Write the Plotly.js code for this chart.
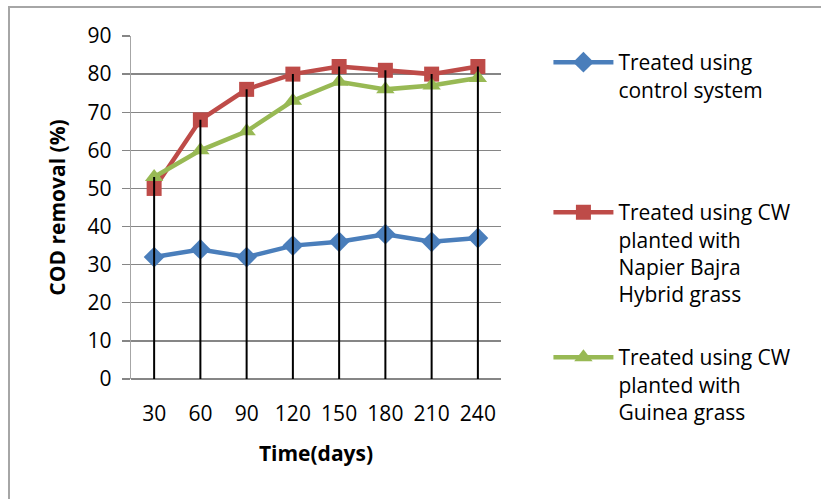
<!DOCTYPE html>
<html>
<head>
<meta charset="utf-8">
<script src="https://cdn.plot.ly/plotly-3.0.1.min.js"></script>
<style>
html,body{margin:0;padding:0;background:#fff;overflow:hidden;}
#chart{width:821px;height:499px;position:absolute;left:0;top:0;}
#frame{position:absolute;left:8px;top:6px;width:900px;height:600px;border-top:2px solid #a6a6a6;border-left:2px solid #a6a6a6;pointer-events:none;}
</style>
</head>
<body>
<div id="chart"></div>
<div id="frame"></div>
<script>
const days = ["30","60","90","120","150","180","210","240"];
const controlSystem = [32, 34, 32, 35, 36, 38, 36, 37];
const napierBajra = [50, 68, 76, 80, 82, 81, 80, 82];
const guineaGrass = [53, 60, 65, 73, 78, 76, 77, 79];
const seriesNames = [
  "Treated using<br>control system",
  "Treated using CW<br>planted with<br>Napier Bajra<br>Hybrid grass",
  "Treated using CW<br>planted with<br>Guinea grass"
];
const yTickVals = [0,10,20,30,40,50,60,70,80,90];

const font = "'Open Sans', 'DejaVu Sans', sans-serif";

// drop lines from 0 to the highest value at each category
const dropX = [], dropY = [];
days.forEach((d, i) => {
  const top = Math.max(controlSystem[i], napierBajra[i], guineaGrass[i]);
  dropX.push(d, d, null);
  dropY.push(0, top, null);
});

const traces = [
  {x: days, y: controlSystem, name: seriesNames[0], type: "scatter", mode: "lines+markers",
   line: {color: "#4A7EBB", width: 4.5}, marker: {symbol: "diamond", size: 16, color: "#4A7EBB"},
   legend: "legend"},
  {x: days, y: napierBajra, name: seriesNames[1], type: "scatter", mode: "lines+markers",
   line: {color: "#BE4B48", width: 4.5}, marker: {symbol: "square", size: 15, color: "#BE4B48"},
   legend: "legend2"},
  {x: days, y: guineaGrass, name: seriesNames[2], type: "scatter", mode: "lines+markers",
   line: {color: "#98B954", width: 4.5}, marker: {symbol: "triangle-up", size: 16, color: "#98B954"},
   legend: "legend3"},
  {x: dropX, y: dropY, type: "scatter", mode: "lines", showlegend: false, hoverinfo: "skip",
   line: {color: "#000000", width: 2}}
];

const legendBase = {
  xref: "container", yref: "container", xanchor: "left", yanchor: "top",
  bgcolor: "rgba(0,0,0,0)", borderwidth: 0, valign: "top", itemwidth: 60,
  font: {family: font, size: 21, color: "#000"}
};

const layout = {
  width: 821, height: 499,
  margin: {l: 131, r: 320, t: 36, b: 120},
  paper_bgcolor: "#ffffff", plot_bgcolor: "#ffffff",
  font: {family: font, size: 21, color: "#000"},
  xaxis: {
    type: "category", range: [-0.5, 7.5],
    showgrid: false, zeroline: false, showline: false,
    ticks: "", ticklabelstandoff: 20,
    tickfont: {family: font, size: 21, color: "#000"},
    title: {text: "<b>Time(days)</b>", font: {family: font, size: 21, color: "#000"}, standoff: 20}
  },
  yaxis: {
    range: [0, 90], tickvals: yTickVals, ticktext: yTickVals.map(String),
    showgrid: true, gridcolor: "#868686", gridwidth: 1.3,
    zeroline: true, zerolinecolor: "#868686", zerolinewidth: 1.3,
    showline: true, linecolor: "#a6a6a6", linewidth: 1.3,
    ticks: "outside", ticklen: 8, tickcolor: "#868686", tickwidth: 1.3,
    ticklabelstandoff: 6,
    tickfont: {family: font, size: 21, color: "#000"},
    title: {text: "<b>COD removal (%)</b>", font: {family: font, size: 21, color: "#000"}, standoff: 16}
  },
  legend: Object.assign({}, legendBase, {x: 0.668, y: 1 - 42/499}),
  legend2: Object.assign({}, legendBase, {x: 0.668, y: 1 - 192/499}),
  legend3: Object.assign({}, legendBase, {x: 0.668, y: 1 - 337/499}),
  showlegend: true
};

Plotly.newPlot("chart", traces, layout, {displayModeBar: false, staticPlot: true});
</script>
</body>
</html>
